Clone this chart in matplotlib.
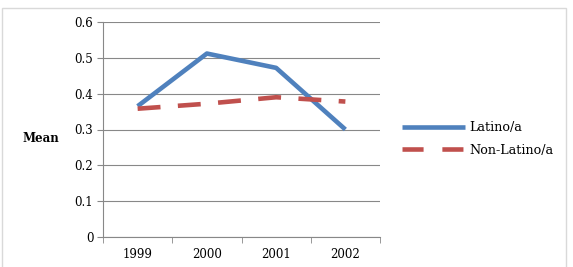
import matplotlib
matplotlib.use("Agg")
import matplotlib.pyplot as plt
from matplotlib.patches import Rectangle
from matplotlib.lines import Line2D

categories = ["1999", "2000", "2001", "2002"]
latino = [0.365, 0.512, 0.472, 0.300]
non_latino = [0.358, 0.372, 0.390, 0.378]
yticks = [0, 0.1, 0.2, 0.3, 0.4, 0.5, 0.6]

plt.rcParams['font.family'] = ['DejaVu Serif']
fig = plt.figure(figsize=(5.73, 2.67), dpi=100)
fig.patches.append(Rectangle((2/573, -0.1), 564/573, 1.1 - 8/267, transform=fig.transFigure,
                             fill=False, edgecolor='#d9d9d9', linewidth=1))
ax = fig.add_axes([103/573, 1 - 237/267, 277/573, 215/267])
x = list(range(len(categories)))
ax.plot(x, latino, color='#4F81BD', linewidth=3.3, label='Latino/a', solid_capstyle='butt')
ax.plot(x, non_latino, color='#C0504D', linewidth=3.3, label='Non-Latino/a',
        dashes=(5.0, 3.8), dash_capstyle='butt')
ax.set_xlim(-0.5, 3.5)
ax.set_ylim(0, 0.6)
ax.set_yticks(yticks)
ax.set_yticklabels([f"{t:g}" for t in yticks], fontsize=8.5)
ax.set_xticks(x)
ax.set_xticklabels(categories, fontsize=8.5)
ax.set_xticks([-0.5, 0.5, 1.5, 2.5, 3.5], minor=True)
ax.tick_params(axis='x', which='major', length=0, pad=8)
ax.tick_params(axis='x', which='minor', length=4, color='#888888', direction='out')
ax.tick_params(axis='y', length=4, color='#888888', pad=3)
ax.grid(axis='y', color='#888888', linewidth=0.8)
ax.set_axisbelow(True)
for s in ['top', 'right']:
    ax.spines[s].set_visible(False)
for s in ['left', 'bottom']:
    ax.spines[s].set_color('#888888')
    ax.spines[s].set_linewidth(0.8)
fig.text(41/573, 1 - 139/267, 'Mean', fontsize=8.5, fontweight='bold', ha='center', va='center')
handles = [Line2D([], [], color='#4F81BD', linewidth=3.3, solid_capstyle='butt'),
           Line2D([], [], color='#C0504D', linewidth=3.3, dashes=(4.6, 4.1), dash_capstyle='butt')]
leg = ax.legend(handles, ['Latino/a', 'Non-Latino/a'], loc='center left',
                bbox_to_anchor=(390/573, 1 - 139/267), bbox_transform=fig.transFigure,
                frameon=False, fontsize=9.2, handlelength=5.0, handletextpad=0.3, labelspacing=0.75)
fig.savefig('out.png', dpi=100)
